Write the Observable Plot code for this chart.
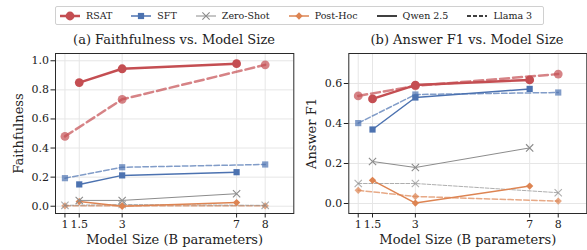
<!DOCTYPE html>
<html><head><meta charset="utf-8">
<script src="https://cdn.jsdelivr.net/npm/d3@7"></script>
<script src="https://cdn.jsdelivr.net/npm/@observablehq/plot@0.6"></script>
<style>
body{margin:0;background:#fff;}
#root{position:relative;width:587px;height:250px;overflow:hidden;font-family:"DejaVu Serif",serif;color:#222}
.title{position:absolute;top:32px;font-size:13px;line-height:15px;text-align:center;white-space:nowrap;transform:translateX(-50%)}
#legend{position:absolute;left:55px;top:6px;width:489px;height:19px;border:1px solid #d0d0d0;border-radius:2px;box-sizing:border-box;display:flex;align-items:center;padding-left:4px;font-size:9.5px;}
.item{display:flex;align-items:center;margin-right:19px;white-space:nowrap}
.item svg{margin-right:6px;overflow:visible}
.panel{position:absolute;top:0}
.panel g[aria-label="x-axis label"] text, .panel g[aria-label="y-axis label"] text{font-size:13px}
</style></head><body><div id="root"></div>
<script>
// ---- data ----
const sizesQwen = [1.5, 3, 7];
const sizesLlama = [1, 3, 8];
const xTicks = [1, 1.5, 3, 7, 8];
const methods = ["RSAT", "SFT", "Zero-Shot", "Post-Hoc"];
const models = ["Qwen 2.5", "Llama 3"];
// Faithfulness
const faithRSATQwen = [0.85, 0.945, 0.98];
const faithRSATLlama = [0.48, 0.735, 0.972];
const faithSFTQwen = [0.15, 0.212, 0.234];
const faithSFTLlama = [0.193, 0.268, 0.287];
const faithZeroQwen = [0.04, 0.04, 0.086];
const faithZeroLlama = [0.006, 0.012, 0.006];
const faithPostQwen = [0.032, 0.0, 0.025];
const faithPostLlama = [0.003, 0.004, 0.003];
// Answer F1
const f1RSATQwen = [0.523, 0.592, 0.618];
const f1RSATLlama = [0.538, 0.588, 0.647];
const f1SFTQwen = [0.37, 0.53, 0.573];
const f1SFTLlama = [0.402, 0.545, 0.555];
const f1ZeroQwen = [0.21, 0.18, 0.278];
const f1ZeroLlama = [0.1, 0.1, 0.054];
const f1PostQwen = [0.116, 0.002, 0.087];
const f1PostLlama = [0.066, 0.035, 0.012];
const faithTicks = [0, 0.2, 0.4, 0.6, 0.8, 1.0];
const f1Ticks = [0, 0.2, 0.4, 0.6];

// ---- styles ----
const style = {
  "RSAT":      {color:"#c44e52", width:2.5, symbol:"circle",   r:4.4, dash:"9,4",     fill:true},
  "SFT":       {color:"#4c72b0", width:1.5, symbol:"square",   r:3.5, dash:"5.5,2.4", fill:true},
  "Zero-Shot": {color:"#8c8c8c", width:1.0, symbol:"times",    r:3.4, dash:"3.7,1.6", fill:false},
  "Post-Hoc":  {color:"#dd8452", width:1.5, symbol:"diamond2", r:3.3, dash:"5.5,2.4", fill:true}
};
const llamaAlpha = 0.7;

function table(vals) {
  const rows = [];
  for (const m of methods) {
    const [q, l] = vals[m];
    sizesQwen.forEach((s, i) => rows.push({method: m, model: "Qwen 2.5", size: s, value: q[i]}));
    sizesLlama.forEach((s, i) => rows.push({method: m, model: "Llama 3", size: s, value: l[i]}));
  }
  return rows;
}
const faithData = table({
  "RSAT": [faithRSATQwen, faithRSATLlama], "SFT": [faithSFTQwen, faithSFTLlama],
  "Zero-Shot": [faithZeroQwen, faithZeroLlama], "Post-Hoc": [faithPostQwen, faithPostLlama]
});
const f1Data = table({
  "RSAT": [f1RSATQwen, f1RSATLlama], "SFT": [f1SFTQwen, f1SFTLlama],
  "Zero-Shot": [f1ZeroQwen, f1ZeroLlama], "Post-Hoc": [f1PostQwen, f1PostLlama]
});

function seriesMarks(data) {
  const marks = [];
  const order = [...methods].reverse();
  for (const model of ["Llama 3", "Qwen 2.5"]) {
    for (const m of order) {
      const st = style[m];
      const d = data.filter(r => r.method === m && r.model === model);
      const op = model === "Llama 3" ? llamaAlpha : 1;
      marks.push(Plot.line(d, {x: "size", y: "value", stroke: st.color, strokeWidth: st.width,
        strokeOpacity: op, strokeDasharray: model === "Llama 3" ? st.dash : null}));
      marks.push(Plot.dot(d, {x: "size", y: "value", symbol: st.symbol, r: st.r,
        fill: st.fill ? st.color : "none", stroke: st.fill ? "none" : st.color,
        strokeWidth: st.fill ? 0 : 1.1, fillOpacity: op, strokeOpacity: op}));
    }
  }
  return marks;
}

function panel(data, yDomain, yTicks, yLabel, width, marginLeft, marginRight) {
  return Plot.plot({
    width, height: 250, marginLeft, marginRight, marginTop: 53, marginBottom: 37,
    style: {fontFamily: "'DejaVu Serif', serif", fontSize: "11px", color: "#222", background: "transparent", overflow: "visible"},
    x: {type: "linear", domain: [0.67, 9]},
    y: {domain: yDomain},
    marks: [
      Plot.gridX(xTicks, {stroke: "#e6e6e6", strokeOpacity: 1, strokeWidth: 1}),
      Plot.gridY(yTicks, {stroke: "#e6e6e6", strokeOpacity: 1, strokeWidth: 1}),
      ...seriesMarks(data),
      Plot.frame({stroke: "#2a2a2a", strokeWidth: 1}),
      Plot.axisX(xTicks, {tickFormat: d => String(d), tickSize: 4.5, tickPadding: 2,
        label: "Model Size (B parameters)", labelAnchor: "center", labelArrow: "none", labelOffset: 30, fontSize: 11}),
      Plot.axisY(yTicks, {tickFormat: d3.format(".1f"), tickSize: 4.5, tickPadding: 2,
        label: yLabel, labelAnchor: "center", labelArrow: "none", labelOffset: 42, fontSize: 11})
    ]
  });
}

const root = document.getElementById("root");

// legend
const legend = document.createElement("div");
legend.id = "legend";
root.appendChild(legend);
function swatch(color, dash, width, symbol, r, fill) {
  const ns = "http://www.w3.org/2000/svg";
  const svg = document.createElementNS(ns, "svg");
  svg.setAttribute("width", 20); svg.setAttribute("height", 10);
  const line = document.createElementNS(ns, "line");
  line.setAttribute("x1", 0); line.setAttribute("x2", 20); line.setAttribute("y1", 5); line.setAttribute("y2", 5);
  line.setAttribute("stroke", color); line.setAttribute("stroke-width", width);
  if (dash) line.setAttribute("stroke-dasharray", dash);
  svg.appendChild(line);
  if (symbol) {
    const map = {circle: d3.symbolCircle, square: d3.symbolSquare, times: d3.symbolTimes, diamond2: d3.symbolDiamond2};
    const p = document.createElementNS(ns, "path");
    p.setAttribute("d", d3.symbol(map[symbol], Math.PI * r * r)());
    p.setAttribute("transform", "translate(10,5)");
    if (fill) { p.setAttribute("fill", color); } else { p.setAttribute("fill", "none"); p.setAttribute("stroke", color); p.setAttribute("stroke-width", 1.1); }
    svg.appendChild(p);
  }
  return svg;
}
function addItem(svg, text) {
  const it = document.createElement("div");
  it.className = "item";
  it.appendChild(svg);
  const s = document.createElement("span");
  s.textContent = text;
  it.appendChild(s);
  legend.appendChild(it);
}
for (const m of methods) {
  const st = style[m];
  addItem(swatch(st.color, null, st.width, st.symbol, st.r, st.fill), m);
}
addItem(swatch("#000", null, 1.5, null), models[0]);
addItem(swatch("#000", "4,2", 1.5, null), models[1]);

// titles
function title(text, cx) {
  const t = document.createElement("div");
  t.className = "title";
  t.style.left = cx + "px";
  t.textContent = text;
  root.appendChild(t);
}
title("(a) Faithfulness vs. Model Size", 174);
title("(b) Answer F1 vs. Model Size", 467);

// panels
const p1 = panel(faithData, [-0.05, 1.05], faithTicks, "Faithfulness", 296, 55, 2.7);
const w1 = document.createElement("div"); w1.className = "panel"; w1.style.left = "0px"; w1.appendChild(p1); root.appendChild(w1);
const p2 = panel(f1Data, [-0.05, 0.75], f1Ticks, "Answer F1", 291, 52.3, 0.7);
const w2 = document.createElement("div"); w2.className = "panel"; w2.style.left = "296px"; w2.appendChild(p2); root.appendChild(w2);
</script>
</body></html>
